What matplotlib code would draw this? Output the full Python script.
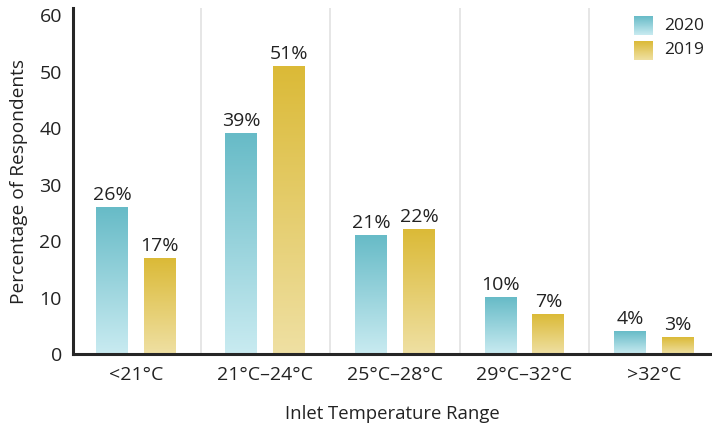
import numpy as np
import matplotlib.pyplot as plt
from matplotlib.colors import LinearSegmentedColormap

plt.rcParams["font.family"] = ["Open Sans", "DejaVu Sans"]

categories = ["<21°C", "21°C–24°C", "25°C–28°C", "29°C–32°C", ">32°C"]
values_2020 = [26, 39, 21, 10, 4]
values_2019 = [17, 51, 22, 7, 3]
series_names = ["2020", "2019"]

text_color = "#222222"
teal = LinearSegmentedColormap.from_list("teal", ["#c9ebf1", "#67bbc7"])
gold = LinearSegmentedColormap.from_list("gold", ["#efe0a3", "#dbba37"])
grad = np.linspace(0, 1, 256).reshape(-1, 1)

fig = plt.figure(figsize=(7.12, 4.29), dpi=100)
ax = fig.add_axes([73 / 712, 75 / 429, 639 / 712, 346 / 429])

x = np.arange(len(categories))
width = 0.247
offset = 0.185


def gradient_bars(xpos, vals, cmap):
    bars = ax.bar(xpos, vals, width, color="none", edgecolor="none")
    for b, v in zip(bars, vals):
        x0 = b.get_x()
        ax.imshow(grad, extent=[x0, x0 + b.get_width(), 0, b.get_height()],
                  origin="lower", cmap=cmap, aspect="auto", zorder=2,
                  interpolation="bicubic")
        ax.text(b.get_x() + b.get_width() / 2, v + 0.6, f"{v}%",
                ha="center", va="bottom", fontsize=14, color=text_color)


gradient_bars(x - offset, values_2020, teal)
gradient_bars(x + offset, values_2019, gold)

for sep in x[:-1] + 0.5:
    ax.axvline(sep, color="#e2e2e2", lw=1.2, zorder=1)

ax.set_xlim(-0.486, 4.448)
ax.set_ylim(0, 61.3)
ax.set_yticks(range(0, 61, 10))
ax.set_xticks(x)
ax.set_xticklabels(categories)
ax.tick_params(axis="both", length=0, labelsize=14, labelcolor=text_color)
ax.tick_params(axis="x", pad=9)
ax.tick_params(axis="y", pad=8)

for side in ["top", "right"]:
    ax.spines[side].set_visible(False)
for side in ["left", "bottom"]:
    ax.spines[side].set_color("#262626")
    ax.spines[side].set_linewidth(2.2)
    ax.spines[side].set_zorder(5)

ax.set_ylabel("Percentage of Respondents", fontsize=13.8, color=text_color, labelpad=8)
ax.set_xlabel("Inlet Temperature Range", fontsize=13.3, color=text_color, labelpad=15)

# legend with gradient swatches
for i, (name, cmap) in enumerate(zip(series_names, [teal, gold])):
    top = 16 + i * 25
    lax = fig.add_axes([634 / 712, 1 - (top + 19) / 429, 19 / 712, 19 / 429])
    lax.imshow(grad, origin="lower", cmap=cmap, aspect="auto", interpolation="bicubic")
    lax.axis("off")
    fig.text(664 / 712, 1 - (top + 9.5) / 429, name, fontsize=12.5,
             color=text_color, va="center", ha="left")

fig.savefig("out.png", dpi=100)
